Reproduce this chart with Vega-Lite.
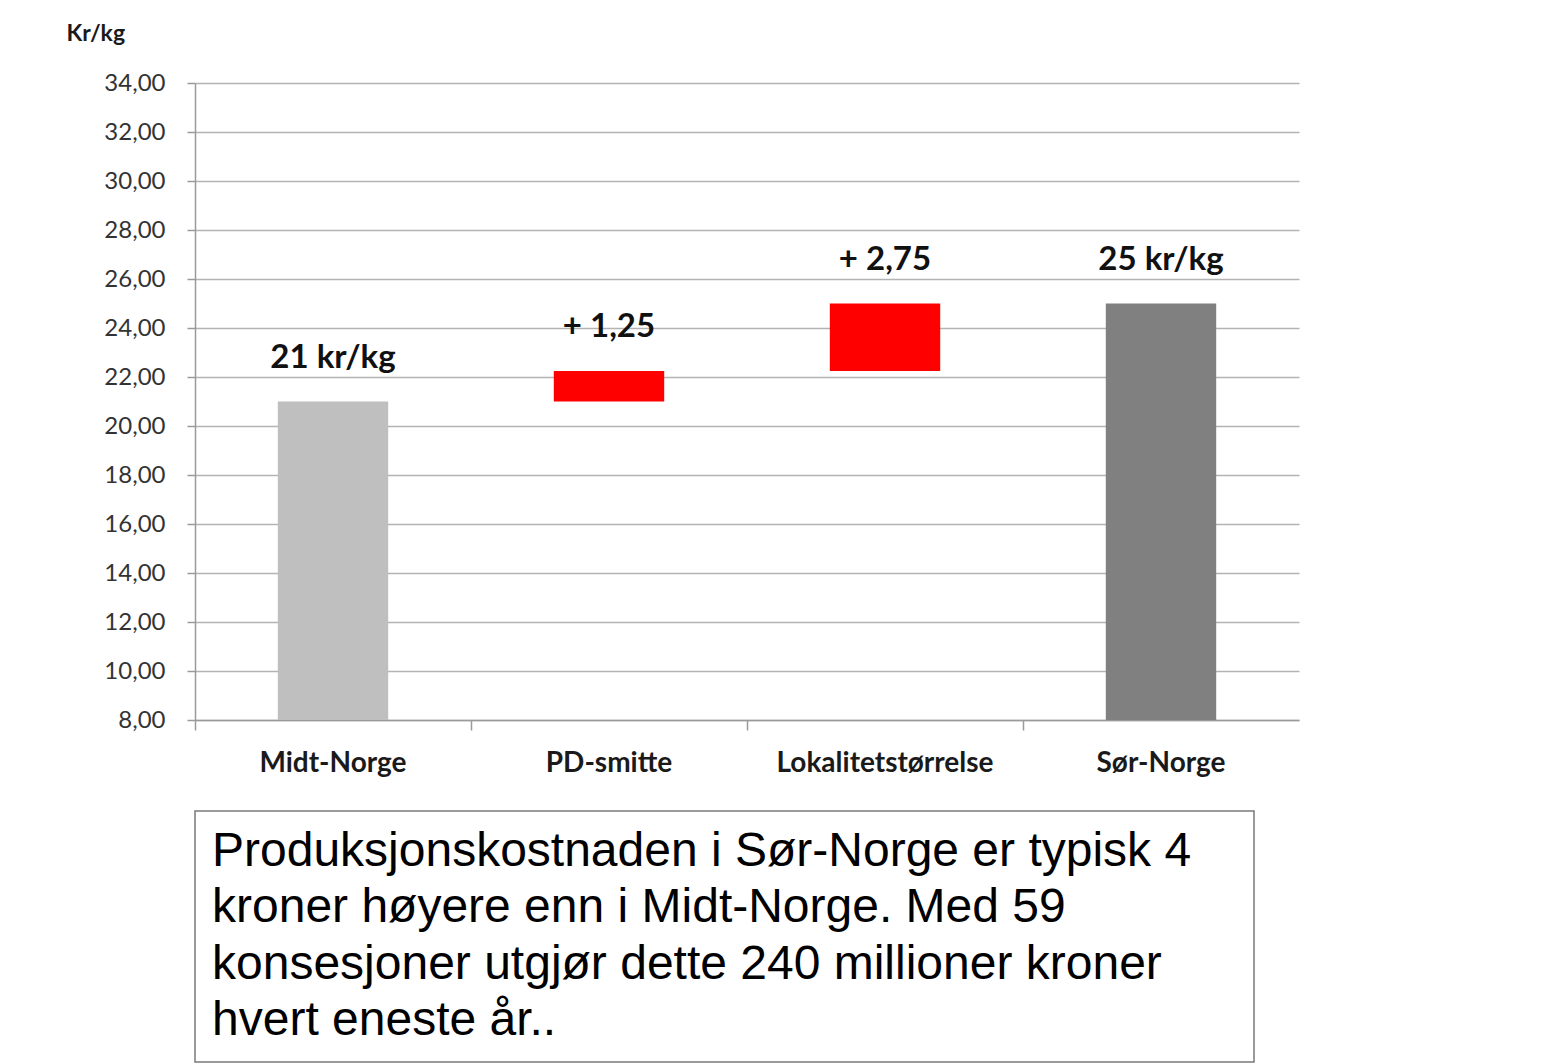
{
  "$schema": "https://vega.github.io/schema/vega-lite/v6.json",
  "padding": {"left": 66, "top": 22, "right": 10, "bottom": 2},
  "background": "white",
  "config": {"font": "Lato", "view": {"stroke": null}},
  "bounds": "flush",
  "spacing": 91,
  "vconcat": [
    {
      "width": 1104,
      "height": 637,
      "data": {"values": [
        {"kategori": "Midt-Norge", "start": 8, "slutt": 21, "tekst": "21 kr/kg", "type": "total1"},
        {"kategori": "PD-smitte", "start": 21, "slutt": 22.25, "tekst": "+ 1,25", "type": "okning"},
        {"kategori": "Lokalitetstørrelse", "start": 22.25, "slutt": 25, "tekst": "+ 2,75", "type": "okning"},
        {"kategori": "Sør-Norge", "start": 8, "slutt": 25, "tekst": "25 kr/kg", "type": "total2"}
      ]},
      "encoding": {
        "x": {
          "field": "kategori", "type": "nominal", "sort": null,
          "scale": {"paddingInner": 0.6, "paddingOuter": 0.3},
          "axis": {
            "title": null, "labelAngle": 0, "labelFont": "Lato", "labelFontWeight": "bold",
            "labelFontSize": 28, "labelColor": "#1a1a1a", "labelPadding": 19, "labelLimit": 0,
            "domainColor": "#9a9a9a", "domainWidth": 1.5, "tickColor": "#9a9a9a", "tickWidth": 1.5,
            "tickSize": 10, "bandPosition": -0.75, "grid": false
          }
        }
      },
      "layer": [
        {
          "mark": {"type": "bar"},
          "encoding": {
            "y": {
              "field": "start", "type": "quantitative",
              "scale": {"domain": [8, 34], "nice": false, "zero": false},
              "axis": {
                "title": "Kr/kg", "titleAngle": 0, "titleAlign": "left", "titleBaseline": "middle",
                "titleX": -129, "titleY": -50, "titleFont": "Lato", "titleFontSize": 23,
                "titleFontWeight": "bold", "titleColor": "#1a1a1a",
                "values": [8, 10, 12, 14, 16, 18, 20, 22, 24, 26, 28, 30, 32, 34],
                "labelExpr": "replace(format(datum.value, '.2f'), '.', ',')",
                "labelFontSize": 24, "labelColor": "#333333", "labelPadding": 22,
                "tickSize": 8, "tickColor": "#9a9a9a", "tickWidth": 1.5,
                "domainColor": "#9a9a9a", "domainWidth": 1.5,
                "grid": true, "gridColor": "#b3b3b3", "gridWidth": 1.5
              }
            },
            "y2": {"field": "slutt"},
            "color": {
              "field": "type", "type": "nominal", "legend": null,
              "scale": {"domain": ["total1", "okning", "total2"], "range": ["#bfbfbf", "#ff0000", "#808080"]}
            }
          }
        },
        {
          "mark": {"type": "text", "font": "Lato", "fontWeight": "bold", "fontSize": 33, "color": "#111111", "baseline": "middle", "dy": -44},
          "encoding": {
            "y": {"field": "slutt", "type": "quantitative"},
            "text": {"field": "tekst"}
          }
        }
      ]
    },
    {
      "width": 1059,
      "height": 251,
      "view": {"stroke": "#7a7a7a", "strokeWidth": 1.5},
      "data": {"values": [
        {"linje": 1, "tekst": "Produksjonskostnaden i Sør-Norge er typisk 4"},
        {"linje": 2, "tekst": "kroner høyere enn i Midt-Norge. Med 59"},
        {"linje": 3, "tekst": "konsesjoner utgjør dette 240 millioner kroner"},
        {"linje": 4, "tekst": "hvert eneste år.."}
      ]},
      "mark": {"type": "text", "font": "Liberation Sans", "fontSize": 48, "color": "#000000", "align": "left", "baseline": "middle", "dx": 17},
      "encoding": {
        "x": {"value": 0},
        "y": {"field": "linje", "type": "ordinal", "axis": null, "scale": {"type": "point", "padding": 0.73}},
        "text": {"field": "tekst"}
      }
    }
  ]
}
